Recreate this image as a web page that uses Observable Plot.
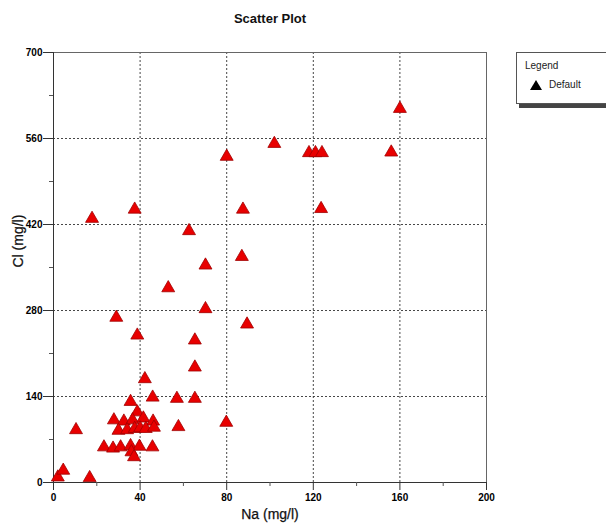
<!DOCTYPE html>
<html>
<head>
<meta charset="utf-8">
<script src="https://cdn.jsdelivr.net/npm/d3@7"></script>
<script src="https://cdn.jsdelivr.net/npm/@observablehq/plot@0.6"></script>
<style>
  html, body { margin: 0; padding: 0; background: #fff; }
  #wrap { position: relative; width: 606px; height: 526px; overflow: hidden; font-family: "Liberation Sans", Arial, sans-serif; }
  #legend { position: absolute; left: 516px; top: 52px; width: 110px; height: 50px; background: #fff;
            border: 1px solid #555; box-shadow: 3px 4px 0 #444; }
  #legend .t { position: absolute; left: 8px; top: 7px; font-size: 10px; color: #222; }
  #legend .s { position: absolute; left: 13px; top: 27px; width: 0; height: 0;
               border-left: 6px solid transparent; border-right: 6px solid transparent; border-bottom: 10px solid #000; }
  #legend .d { position: absolute; left: 32px; top: 26px; font-size: 10px; color: #222; }
</style>
</head>
<body>
<div id="wrap"></div>
<script>
// Data
const naValues = [160, 102, 80, 118, 121, 124, 156, 37.5, 87.5, 123.6, 17.8, 62.6, 87, 70.2, 53, 70.2, 29, 89.4, 38.7, 65.3, 65.3, 42.2,
  35.6, 45.8, 57, 65.3, 79.8, 57.7, 10.4, 2, 4.5, 16.7,
  38.7, 27.9, 32.5, 36.5, 41.5, 46, 30, 34, 37.5, 40, 42.6, 46.4, 23.3, 27.5, 31, 35.6, 39.7, 45.7, 36, 37.2];
const clValues = [611, 554, 533, 539, 539, 539, 540, 447, 447, 448, 432, 412, 370, 356, 319, 285, 271, 260, 242, 234, 190, 171,
  134, 141, 139, 139, 100, 93, 88, 11, 22, 10,
  117, 104, 102, 104, 107, 102, 87, 88, 90, 91, 90, 92, 60, 58, 60, 62, 61, 60, 52, 44];
const xMajorTicks = [0, 40, 80, 120, 160, 200];
const xMinorTicks = [20, 60, 100, 140, 180];
const yMajorTicks = [0, 140, 280, 420, 560, 700];
const yMinorTicks = [70, 210, 350, 490, 630];
const titleText = "Scatter Plot";
const xLabel = "Na (mg/l)";
const yLabel = "Cl (mg/l)";
const seriesName = "Default";

const data = naValues.map((na, i) => ({na, cl: clValues[i]}));

const chart = Plot.plot({
  width: 606,
  height: 526,
  marginLeft: 53,
  marginRight: 120,
  marginTop: 52,
  marginBottom: 44,
  style: {fontFamily: "'Liberation Sans', Arial, sans-serif", background: "#fff"},
  x: {domain: [0, 200]},
  y: {domain: [0, 700]},
  marks: [
    Plot.gridX(xMajorTicks.slice(1, -1), {stroke: "#333", strokeOpacity: 0.9, strokeDasharray: "2,2"}),
    Plot.gridY(yMajorTicks.slice(1, -1), {stroke: "#333", strokeOpacity: 0.9, strokeDasharray: "2,2"}),
    Plot.frame({stroke: "#666"}),
    Plot.ruleX([0], {stroke: "#333"}),
    Plot.ruleY([0], {stroke: "#333"}),
    Plot.axisX(xMajorTicks, {tickSize: 8, tickPadding: 3, fontSize: 10, fontWeight: "bold", stroke: "#333", label: null}),
    Plot.axisX(xMinorTicks, {tickSize: 4, text: null, stroke: "#555", label: null}),
    Plot.axisY(yMajorTicks, {tickSize: 10, tickPadding: 1, fontSize: 10, fontWeight: "bold", stroke: "#333", label: null}),
    Plot.axisY(yMinorTicks, {tickSize: 4, text: null, stroke: "#555", label: null}),
    Plot.dot(data, {x: "na", y: "cl", symbol: "triangle", r: 4.8, dy: 1.5, fill: "#e80000", stroke: "#a00000", strokeWidth: 0.8}),
    Plot.text([titleText], {frameAnchor: "top", lineAnchor: "middle", dy: -34, fontSize: 13, fontWeight: "bold", fill: "#111"}),
    Plot.text([xLabel], {frameAnchor: "bottom", lineAnchor: "middle", dy: 32, fontSize: 14, fill: "#111", stroke: "#111", strokeWidth: 0.25}),
    Plot.text([yLabel], {frameAnchor: "left", lineAnchor: "middle", dx: -35, rotate: -90, fontSize: 14, fill: "#111", stroke: "#111", strokeWidth: 0.25})
  ]
});

const wrap = document.getElementById("wrap");
wrap.appendChild(chart);
const legend = document.createElement("div");
legend.id = "legend";
legend.innerHTML = `<div class="t">Legend</div><div class="s"></div><div class="d">${seriesName}</div>`;
wrap.appendChild(legend);
</script>
</body>
</html>
